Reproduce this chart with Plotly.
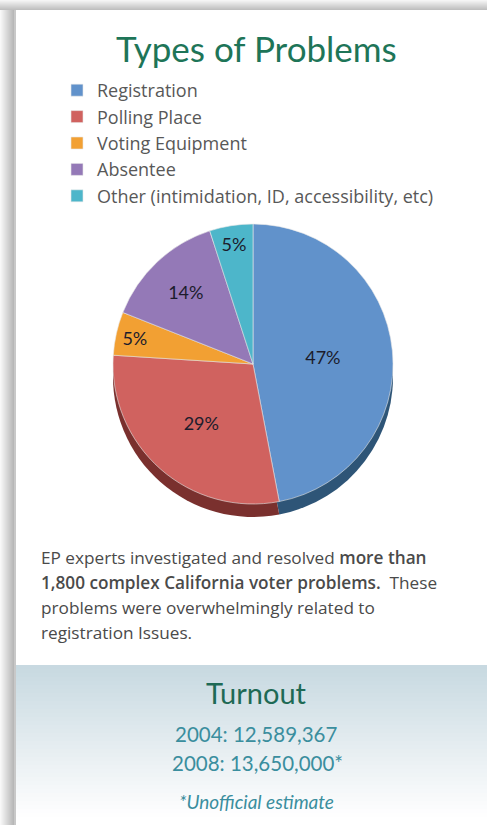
import plotly.graph_objects as go

# ---- data ----
categories = ["Registration", "Polling Place", "Voting Equipment", "Absentee",
              "Other (intimidation, ID, accessibility, etc)"]
shares = [47, 29, 5, 14, 5]
colors = ["#6192CB", "#D0625F", "#F2A033", "#9479B7", "#4DB6CA"]
shadow_colors = ["#2E5577", "#7A302E", "#9C6420", "#5A4774", "#2A7383"]
turnout_lines = ["2004: 12,589,367", "2008: 13,650,000*"]
SB = '<span style="font-weight:600">'
body_lines = [
    "EP experts investigated and resolved " + SB + "more than</span>",
    SB + "1,800 complex California voter problems.</span>  These",
    "problems were overwhelmingly related to",
    "registration Issues.",
]

W, H = 487, 825
def px(x): return x / W
def py(y): return 1 - y / H

FONT = "Lato"
BODY = "Open Sans"

fig = go.Figure()

# pie geometry
cx, cy, d = 253, 364, 280
dx0, dx1 = px(cx - d / 2), px(cx + d / 2)
dy_top, dy_bot = py(cy - d / 2), py(cy + d / 2)
off = 13 / H

# extrusion (3D side)
fig.add_trace(go.Pie(
    labels=categories, values=shares, sort=False, direction="clockwise", rotation=0,
    marker=dict(colors=shadow_colors, line=dict(width=0)),
    textinfo="none", hoverinfo="skip", showlegend=False,
    domain=dict(x=[dx0, dx1], y=[dy_bot - off, dy_top - off]),
))
# top face
fig.add_trace(go.Pie(
    labels=categories, values=shares, sort=False, direction="clockwise", rotation=0,
    marker=dict(colors=colors, line=dict(width=0.6, color="#e8e8e8")),
    textinfo="percent", texttemplate="%{value}%", textposition="inside",
    insidetextorientation="horizontal",
    textfont=dict(family=FONT, size=18, color="#1c1c2c"),
    domain=dict(x=[dx0, dx1], y=[dy_bot, dy_top]),
    showlegend=True,
))

shapes = []
# outer shadow (top and left)
for i in range(10):
    g = int(245 - i * 6)
    shapes.append(dict(type="rect", xref="paper", yref="paper",
                       x0=0, x1=1, y0=py(i + 1), y1=py(i),
                       fillcolor=f"rgb({g},{g},{g})", line=dict(width=0), layer="below"))
for i in range(16):
    g = int(248 - i * 5) if i < 14 else 200
    shapes.append(dict(type="rect", xref="paper", yref="paper",
                       x0=px(i), x1=px(i + 1), y0=0, y1=py(10),
                       fillcolor=f"rgb({g},{g},{g})", line=dict(width=0), layer="below"))

# turnout gradient box
top_c = (200, 217, 225)
bot_c = (255, 255, 255)
y_start, y_end = 665, 825
n = 40
for i in range(n):
    t = i / (n - 1)
    c = tuple(int(top_c[k] + (bot_c[k] - top_c[k]) * min(1, t * 1.05)) for k in range(3))
    ya = y_start + (y_end - y_start) * i / n
    yb = y_start + (y_end - y_start) * (i + 1) / n
    shapes.append(dict(type="rect", xref="paper", yref="paper",
                       x0=px(16), x1=1, y0=py(yb), y1=py(ya),
                       fillcolor=f"rgb{c}", line=dict(width=0), layer="below"))

annotations = [
    dict(text="Types of Problems", x=px(256), y=py(48), xref="paper", yref="paper",
         showarrow=False, font=dict(family=FONT, size=35, color="#1E7558"),
         xanchor="center", yanchor="middle"),
]
for i, line in enumerate(body_lines):
    annotations.append(dict(text=line, x=px(39), y=py(557 + 25 * i), xref="paper", yref="paper",
                            showarrow=False, align="left", xanchor="left", yanchor="middle",
                            font=dict(family=BODY, size=17.2, color="#4a4a4a")))
annotations += [
    dict(text="Turnout", x=px(256), y=py(692), xref="paper", yref="paper",
         showarrow=False, font=dict(family=FONT, size=29, color="#1E6A55"),
         xanchor="center", yanchor="middle"),
    dict(text=turnout_lines[0], x=px(256), y=py(734), xref="paper", yref="paper",
         showarrow=False, font=dict(family=FONT, size=20.5, color="#3A8E9E"),
         xanchor="center", yanchor="middle"),
    dict(text=turnout_lines[1], x=px(257), y=py(763), xref="paper", yref="paper",
         showarrow=False, font=dict(family=FONT, size=20.5, color="#3A8E9E"),
         xanchor="center", yanchor="middle"),
    dict(text="<i>*Unofficial estimate</i>", x=px(256), y=py(801), xref="paper", yref="paper",
         showarrow=False, font=dict(family=FONT, size=19, color="#3A8E9E"),
         xanchor="center", yanchor="middle"),
]

fig.update_layout(
    width=W, height=H,
    margin=dict(l=0, r=0, t=0, b=0),
    paper_bgcolor="white", plot_bgcolor="white",
    showlegend=True,
    legend=dict(x=px(57), y=py(72), xanchor="left", yanchor="top",
                font=dict(family=BODY, size=18, color="#585858"),
                itemwidth=30, bgcolor="rgba(0,0,0,0)", traceorder="normal",
                tracegroupgap=0),
    shapes=shapes,
    annotations=annotations,
)

fig.write_html("out.html")
